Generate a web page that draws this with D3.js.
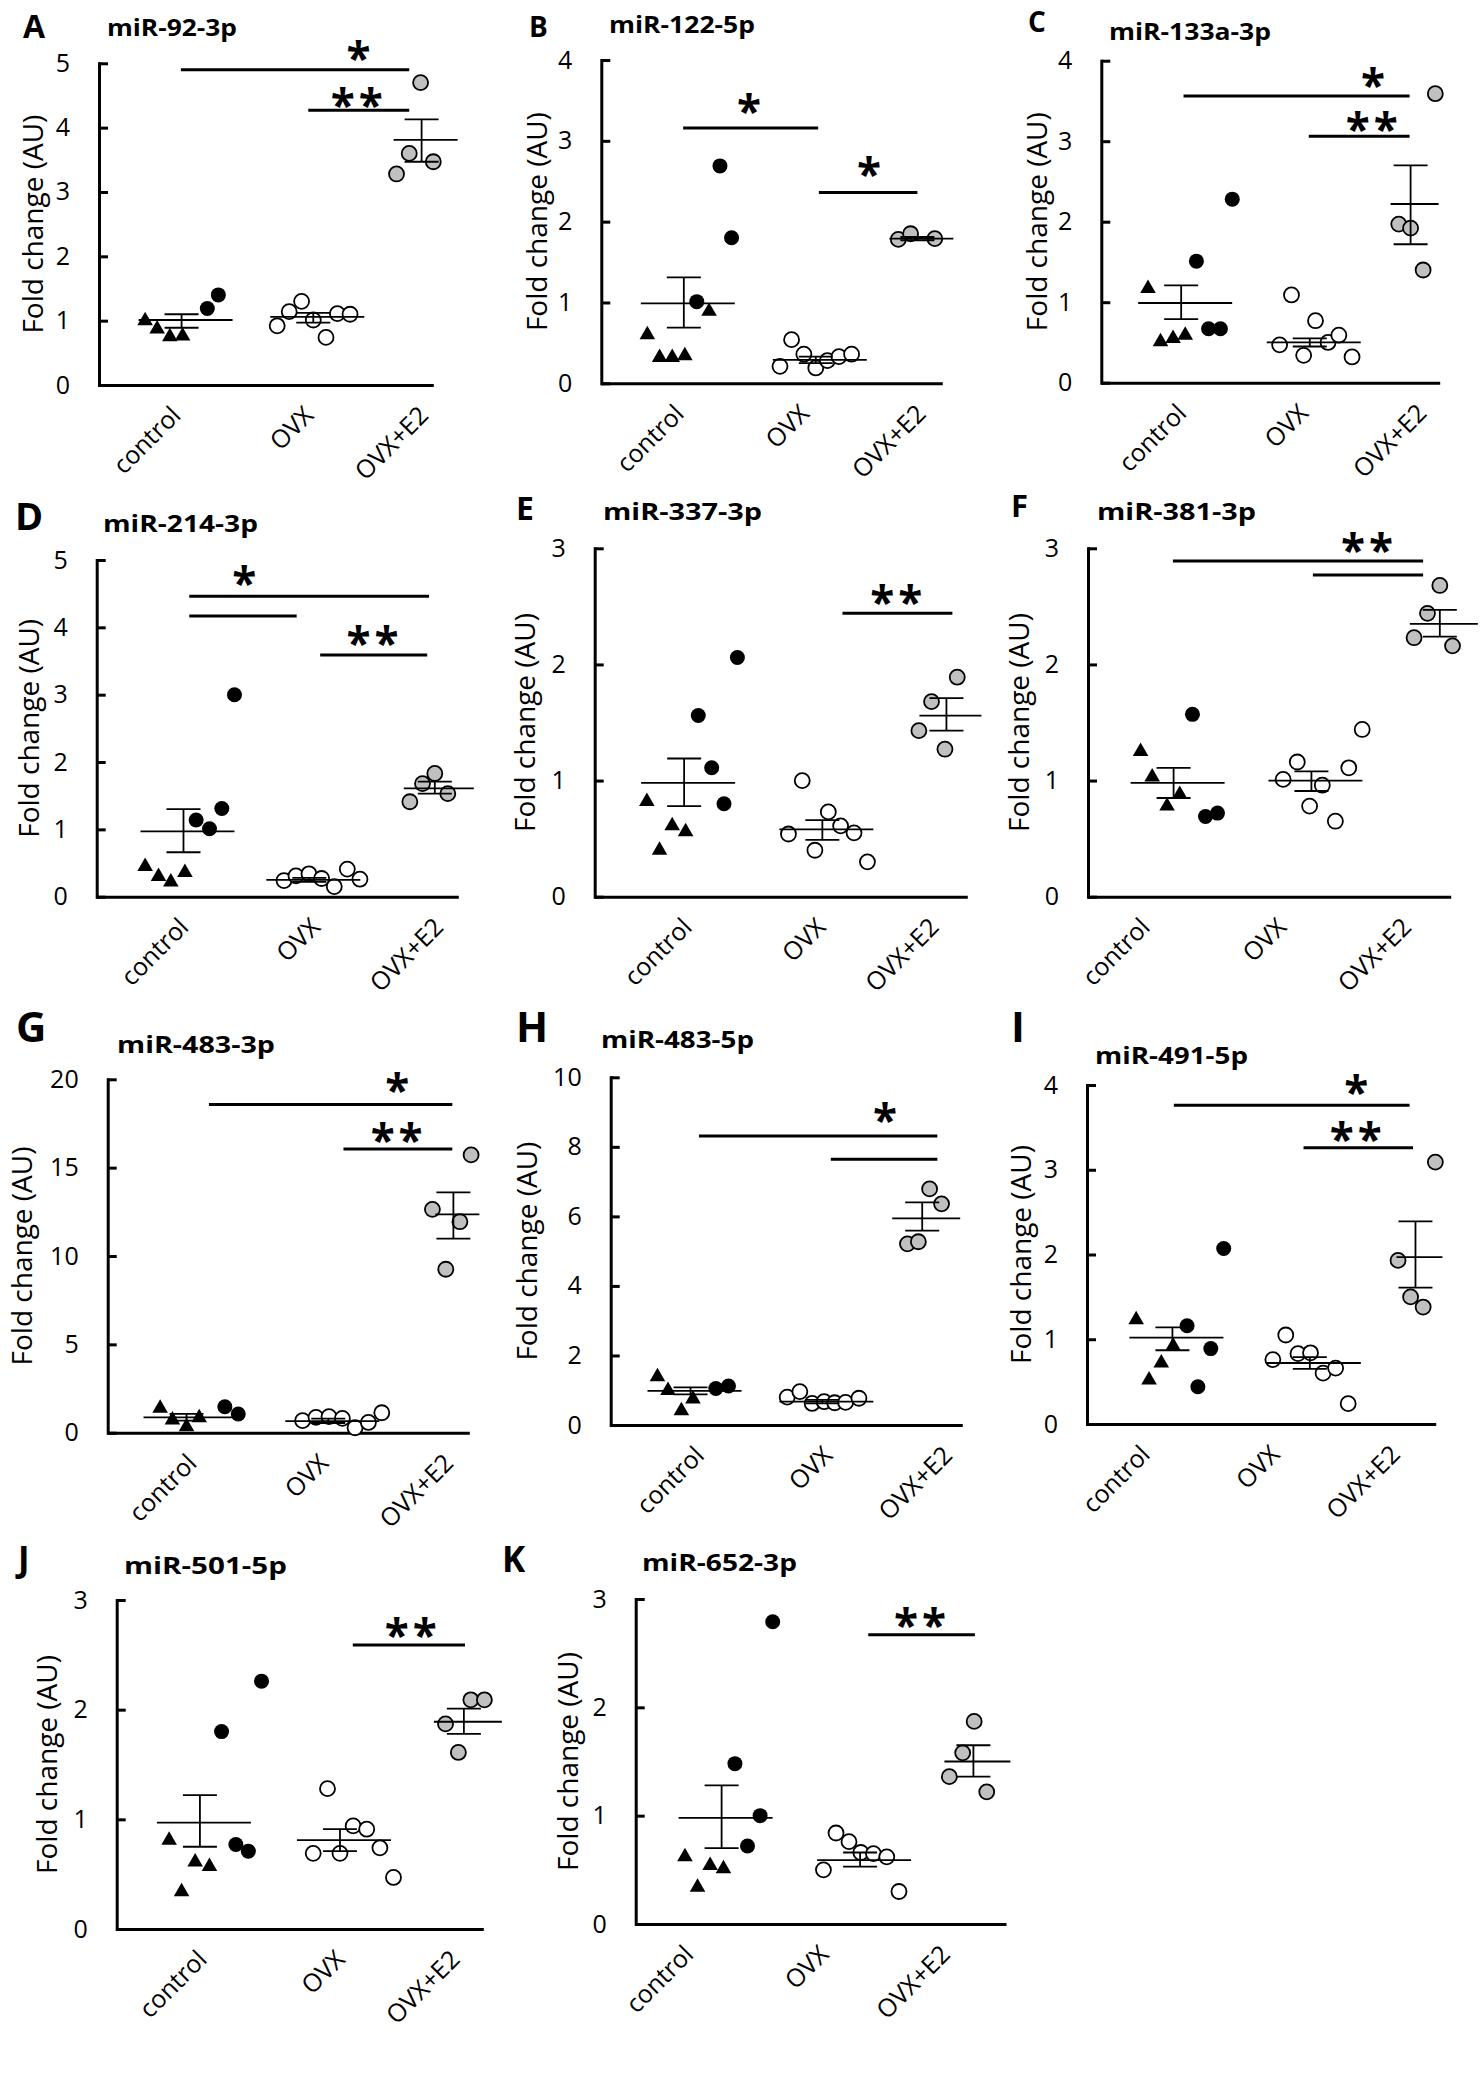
<!DOCTYPE html>
<html><head><meta charset="utf-8">
<script src="https://cdn.jsdelivr.net/npm/d3@7"></script>
<style>
body{margin:0;background:#fff}
svg{display:block}
text{font-family:"Open Sans",sans-serif;fill:#000}
</style>
</head><body>
<svg id="c" width="1482" height="2100"></svg>
<script>
// ---------- categories / labels ----------
const groups = ["control", "OVX", "OVX+E2"];
const panelIds = ["A","B","C","D","E","F","G","H","I","J","K"];
const titles = ["miR-92-3p","miR-122-5p","miR-133a-3p","miR-214-3p","miR-337-3p","miR-381-3p",
                "miR-483-3p","miR-483-5p","miR-491-5p","miR-501-5p","miR-652-3p"];
const yLabel = "Fold change (AU)";
const yMax  = [5,4,4,5,3,3,20,10,4,3,3];
const yStep = [1,1,1,1,1,1,5,2,1,1,1];

// ---------- data: [x-position (0-100 along axis), fold change] ----------
// control, triangles
const triA=[[13.8,1.00],[17.4,0.87],[21.2,0.75],[25.0,0.76]];
const triB=[[13.5,0.60],[17.1,0.32],[20.8,0.32],[24.5,0.34],[31.6,0.89]];
const triC=[[13.8,1.17],[17.5,0.51],[21.2,0.55],[24.8,0.59]];
const triD=[[13.4,0.45],[17.1,0.30],[20.5,0.22],[24.4,0.36]];
const triE=[[14.0,0.82],[17.4,0.40],[20.8,0.61],[24.4,0.56]];
const triF=[[14.5,1.25],[17.7,1.03],[21.8,0.78],[25.3,0.88]];
const triG=[[14.5,1.38],[17.9,0.72],[21.8,0.34],[25.3,0.85]];
const triH=[[13.3,1.39],[16.3,0.99],[20.1,0.41],[23.4,0.75]];
const triI=[[14.1,1.23],[17.8,0.52],[21.3,0.72],[24.7,0.92]];
const triJ=[[14.3,0.81],[17.7,0.34],[21.4,0.61],[25.3,0.57]];
const triK=[[13.3,0.62],[16.7,0.34],[20.1,0.54],[23.7,0.51]];
// control, filled circles
const dotA=[[32.4,1.19],[35.7,1.40]];
const dotB=[[28.0,1.01],[34.8,2.69],[38.2,1.80]];
const dotC=[[28.1,1.51],[31.7,0.67],[35.2,0.67],[38.7,2.28]];
const dotD=[[27.5,1.14],[31.2,1.01],[34.6,1.31],[38.1,3.00]];
const dotE=[[27.8,1.56],[31.4,1.11],[34.7,0.80],[38.3,2.06]];
const dotF=[[28.8,1.57],[32.4,0.69],[35.7,0.72]];
const dotG=[[32.4,1.47],[36.1,1.06]];
const dotH=[[29.9,1.05],[33.5,1.12]];
const dotI=[[28.7,1.16],[31.8,0.44],[35.5,0.89],[39.2,2.07]];
const dotJ=[[28.6,1.80],[32.5,0.77],[35.9,0.71],[39.5,2.26]];
const dotK=[[26.8,1.48],[30.2,0.72],[33.6,1.00],[37.0,2.79]];
// OVX, open circles
const ovxA=[[53.3,0.92],[56.9,1.14],[60.6,1.30],[64.1,1.01],[67.9,0.74],[71.3,1.11],[75.1,1.10]];
const ovxB=[[52.4,0.21],[55.8,0.54],[59.4,0.36],[62.9,0.19],[66.3,0.28],[69.7,0.33],[73.4,0.36]];
const ovxC=[[52.7,0.47],[56.2,1.09],[59.8,0.34],[63.3,0.77],[67.0,0.50],[70.2,0.59],[74.1,0.32]];
const ovxD=[[51.8,0.24],[55.1,0.31],[58.7,0.34],[62.2,0.27],[65.7,0.15],[69.3,0.41],[72.8,0.26]];
const ovxE=[[52.0,0.54],[55.7,1.00],[59.1,0.40],[62.7,0.73],[66.0,0.61],[69.6,0.55],[73.2,0.30]];
const ovxF=[[53.8,1.01],[57.7,1.16],[61.1,0.78],[64.6,0.96],[68.2,0.65],[71.9,1.11],[75.6,1.44]];
const ovxG=[[53.9,0.68],[57.6,0.87],[61.2,0.91],[64.9,0.81],[68.4,0.28],[72.1,0.58],[75.8,1.13]];
const ovxH=[[50.2,0.80],[53.8,0.96],[57.3,0.62],[60.7,0.67],[63.7,0.64],[66.8,0.65],[70.6,0.77]];
const ovxI=[[53.3,0.76],[57.0,1.05],[60.5,0.83],[64.1,0.84],[67.7,0.60],[71.3,0.66],[74.9,0.24]];
const ovxJ=[[53.6,0.69],[57.5,1.28],[60.9,0.69],[64.5,0.94],[68.2,0.91],[71.8,0.74],[75.5,0.47]];
const ovxK=[[50.7,0.50],[54.1,0.84],[57.6,0.76],[60.8,0.66],[64.2,0.65],[67.8,0.62],[71.1,0.30]];
// OVX+E2, grey circles
const e2A=[[89.0,3.28],[92.8,3.60],[96.2,4.70],[100.0,3.47]];
const e2B=[[87.1,1.78],[90.7,1.85],[97.8,1.79]];
const e2C=[[87.9,1.97],[91.4,1.92],[95.1,1.40],[98.7,3.59]];
const e2D=[[86.6,1.41],[90.1,1.68],[93.5,1.83],[97.1,1.53]];
const e2E=[[87.0,1.43],[90.4,1.68],[94.0,1.27],[97.3,1.89]];
const e2F=[[89.9,2.23],[93.6,2.44],[97.0,2.68],[100.5,2.16]];
const e2G=[[89.8,12.64],[93.5,9.25],[97.4,11.94],[100.5,15.72]];
const e2H=[[84.4,5.21],[87.5,5.27],[90.7,6.79],[94.1,6.36]];
const e2I=[[89.2,1.93],[92.8,1.50],[96.4,1.38],[99.9,3.09]];
const e2J=[[89.7,1.87],[93.2,1.61],[96.6,2.09],[100.3,2.09]];
const e2K=[[84.7,1.36],[88.3,1.58],[91.4,1.87],[94.8,1.22]];
// mean ± SEM per group: [x, mean, upper, lower]
const meanA=[[24.7,1.01,1.10,0.89],[64.1,1.06,1.12,0.97],[96.5,3.81,4.13,3.47]];
const meanB=[[24.2,0.99,1.31,0.69],[62.9,0.29,0.33,0.25],[92.7,1.79,1.81,1.77]];
const meanC=[[23.6,0.99,1.21,0.79],[61.6,0.50,0.55,0.45],[91.4,2.22,2.70,1.72]];
const meanD=[[24.0,0.97,1.30,0.66],[58.8,0.25,0.28,0.22],[93.5,1.61,1.71,1.53]];
const meanE=[[24.0,0.98,1.19,0.78],[61.1,0.58,0.66,0.49],[94.4,1.56,1.71,1.43]];
const meanF=[[23.6,0.98,1.11,0.85],[61.6,1.00,1.08,0.91],[97.0,2.35,2.47,2.24]];
const meanG=[[21.8,0.87,1.06,0.68],[61.0,0.66,0.80,0.55],[95.6,12.36,13.60,10.98]];
const meanH=[[22.7,0.98,1.08,0.88],[60.2,0.67,0.72,0.62],[88.6,5.94,6.40,5.59]];
const meanI=[[24.5,1.02,1.14,0.87],[63.9,0.72,0.79,0.65],[94.2,1.97,2.39,1.61]];
const meanJ=[[22.7,0.97,1.22,0.75],[60.9,0.81,0.91,0.71],[94.7,1.89,2.01,1.78]];
const meanK=[[23.2,0.98,1.28,0.70],[60.6,0.59,0.66,0.53],[91.2,1.50,1.65,1.36]];
// significance bars: [xStart, xEnd, yLine, labelX, labelY, label]
const sigA=[[24.5,92.8,4.90,77.6,5.21,"*"],[62.6,92.8,4.27,77.1,4.48,"**"]];
const sigB=[[24.0,63.6,3.16,43.3,3.48,"*"],[63.8,92.7,2.36,78.5,2.70,"*"]];
const sigC=[[24.3,91.1,3.56,80.3,3.81,"*"],[61.3,91.1,3.06,79.9,3.26,"**"]];
const sigD=[[25.6,91.9,4.46,0,0,""],[25.6,55.3,4.17,40.8,4.78,"*"],[61.8,91.4,3.59,76.3,3.89,"**"]];
const sigE=[[66.5,96.0,2.44,80.9,2.61,"**"]];
const sigF=[[23.4,92.4,2.89,0,0,""],[62.0,92.4,2.77,76.9,3.06,"**"]];
const sigG=[[28.0,95.3,18.58,80.1,19.87,"*"],[65.2,95.3,16.06,79.9,17.04,"**"]];
const sigH=[[25.1,92.9,8.31,0,0,""],[62.6,92.9,7.64,78.0,9.01,"*"]];
const sigI=[[24.9,92.5,3.76,77.2,4.02,"*"],[62.1,93.5,3.26,77.1,3.47,"**"]];
const sigJ=[[64.4,95.0,2.59,80.2,2.76,"**"]];
const sigK=[[62.8,91.6,2.67,76.8,2.84,"**"]];

const triangles=[triA,triB,triC,triD,triE,triF,triG,triH,triI,triJ,triK];
const dots=[dotA,dotB,dotC,dotD,dotE,dotF,dotG,dotH,dotI,dotJ,dotK];
const ovxs=[ovxA,ovxB,ovxC,ovxD,ovxE,ovxF,ovxG,ovxH,ovxI,ovxJ,ovxK];
const e2s=[e2A,e2B,e2C,e2D,e2E,e2F,e2G,e2H,e2I,e2J,e2K];
const means=[meanA,meanB,meanC,meanD,meanE,meanF,meanG,meanH,meanI,meanJ,meanK];
const sigs=[sigA,sigB,sigC,sigD,sigE,sigF,sigG,sigH,sigI,sigJ,sigK];

// ---------- layout (pixel geometry) ----------
const layout = [
 {x0:99,   x1:433.3, y0:385,    yT:63.3,  L:[23,38,32],   T:[107,36,130],  yl:67, cat:[24.9,64.6,99],   e2h:32},
 {x0:601.3,x1:942.3, y0:383.3,  yT:60,    L:[529,37,28],  T:[609,33,146],  yl:65, cat:[24.7,61.4,95.6], e2h:32},
 {x0:1101.3,x1:1439.7,y0:382.7, yT:60.7,  L:[1028,32,28], T:[1109,40,162], yl:65, cat:[25.6,61.6,96.6], e2h:24},
 {x0:96.7, x1:458.3, y0:896.7,  yT:560,   L:[15,530,38],  T:[103,532,155], yl:69, cat:[25.8,62.2,96.3], e2h:35},
 {x0:594.7,x1:967.3, y0:896.7,  yT:548.3, L:[516,520,32], T:[603,520,159], yl:71, cat:[26.5,62.4,92.8], e2h:31},
 {x0:1088, x1:1450.7,y0:896.7,  yT:548.3, L:[1011,517,31],T:[1097,520,159],yl:70, cat:[17.5,55.1,89.6], e2h:34},
 {x0:107.7,x1:469.3, y0:1432.7, yT:1079.3,L:[16,1042,42], T:[117,1053,158], yl:87, cat:[25,61.5,96],    e2h:22},
 {x0:610.7,x1:962.3, y0:1425,   yT:1077.3,L:[516,1042,42],T:[601,1048,153],yl:85, cat:[27,63.5,97.6],  e2h:34},
 {x0:1087, x1:1435.7,y0:1424,   yT:1085,  L:[1011,1042,42],T:[1095,1064,153],yl:67,cat:[18.5,55.7,90.2],e2h:23},
 {x0:116.7,x1:483.3, y0:1929,   yT:1600,  L:[18,1572,35], T:[124,1574,163], yl:71, cat:[25,62.7,94],    e2h:34},
 {x0:635.7,x1:1006,  y0:1924,   yT:1599,  L:[502,1572,35],T:[642,1571,155],yl:69, cat:[16,52.5,85.3],  e2h:33}
];

const svg = d3.select("#c");
const FONT = '"Open Sans", sans-serif';
const triSym = d3.symbol().type(d3.symbolTriangle).size(105);
const STAR = 44;

panelIds.forEach((id, i) => {
  const P = layout[i];
  const g = svg.append("g");
  const x = d3.scaleLinear().domain([0, 100]).range([P.x0, P.x1]);
  const y = d3.scaleLinear().domain([0, yMax[i]]).range([P.y0, P.yT]);

  // panel letter & title
  g.append("text").attr("x", P.L[0]).attr("y", P.L[1]).attr("font-size", P.L[2])
    .attr("font-weight", 700).text(id);
  g.append("text").attr("x", P.T[0]).attr("y", P.T[1]).attr("font-size", 23)
    .attr("font-weight", 700).attr("textLength", P.T[2]).attr("lengthAdjust", "spacingAndGlyphs")
    .text(titles[i]);

  // y axis
  const ya = d3.axisLeft(y).tickValues(d3.range(0, yMax[i] + 1e-9, yStep[i]))
    .tickFormat(d3.format("d"))
    .tickSizeInner(-9).tickSizeOuter(0).tickPadding(29);
  const gy = g.append("g").attr("transform", `translate(${P.x0},0)`).call(ya)
    .attr("font-size", 25).attr("font-family", FONT);
  gy.select(".domain").attr("stroke", "#000").attr("stroke-width", 3).attr("stroke-linecap", "square");
  gy.selectAll(".tick line").attr("stroke", "#000").attr("stroke-width", 3);
  gy.selectAll(".tick text").attr("fill", "#000");

  // x axis
  const xa = d3.axisBottom(x).tickValues([]).tickSizeOuter(0);
  const gx = g.append("g").attr("transform", `translate(0,${P.y0})`).call(xa);
  gx.select(".domain").attr("stroke", "#000").attr("stroke-width", 3);

  // category labels
  g.selectAll("text.cat").data(groups).join("text").attr("class", "cat")
    .attr("transform", (d, j) => `translate(${x(P.cat[j])},${P.y0 + 32}) rotate(-45)`)
    .attr("text-anchor", "end").attr("font-size", 25).text(d => d);

  // y label
  g.append("text")
    .attr("transform", `translate(${P.x0 - P.yl},${(P.y0 + P.yT) / 2}) rotate(-90)`)
    .attr("text-anchor", "middle").attr("dominant-baseline", "central")
    .attr("font-size", 28).text(yLabel);

  // points
  g.selectAll("path.tri").data(triangles[i]).join("path").attr("class", "tri")
    .attr("d", triSym).attr("transform", d => `translate(${x(d[0])},${y(d[1])})`)
    .attr("fill", "#000");
  g.selectAll("circle.dot").data(dots[i]).join("circle").attr("class", "dot")
    .attr("cx", d => x(d[0])).attr("cy", d => y(d[1])).attr("r", 7.5).attr("fill", "#000");
  g.selectAll("circle.ovx").data(ovxs[i]).join("circle").attr("class", "ovx")
    .attr("cx", d => x(d[0])).attr("cy", d => y(d[1])).attr("r", 7.5)
    .attr("fill", "#fff").attr("stroke", "#000").attr("stroke-width", 1.8);
  g.selectAll("circle.e2").data(e2s[i]).join("circle").attr("class", "e2")
    .attr("cx", d => x(d[0])).attr("cy", d => y(d[1])).attr("r", 7.5)
    .attr("fill", "#c0c0c0").attr("stroke", "#000").attr("stroke-width", 1.8);

  // mean ± SEM
  const segs = [];
  means[i].forEach((m, j) => {
    const cx = x(m[0]);
    const hw = j < 2 ? 47 : P.e2h;
    segs.push([cx - hw + 4, y(m[1]), cx + hw + 4, y(m[1])]);
    segs.push([cx, y(m[2]), cx, y(m[3])]);
    segs.push([cx - 17, y(m[2]), cx + 17, y(m[2])]);
    segs.push([cx - 17, y(m[3]), cx + 17, y(m[3])]);
  });
  g.selectAll("line.ms").data(segs).join("line").attr("class", "ms")
    .attr("x1", d => d[0]).attr("y1", d => d[1]).attr("x2", d => d[2]).attr("y2", d => d[3])
    .attr("stroke", "#000").attr("stroke-width", 1.8);

  // significance bars
  g.selectAll("line.sig").data(sigs[i]).join("line").attr("class", "sig")
    .attr("x1", d => x(d[0])).attr("x2", d => x(d[1]))
    .attr("y1", d => y(d[2])).attr("y2", d => y(d[2]))
    .attr("stroke", "#000").attr("stroke-width", 3);
  g.selectAll("text.star").data(sigs[i].filter(d => d[5])).join("text").attr("class", "star")
    .attr("x", d => x(d[3]) + 2).attr("y", d => y(d[4]) + STAR * 0.56)
    .attr("text-anchor", "middle").attr("font-size", STAR).attr("font-weight", 700)
    .attr("letter-spacing", 4).text(d => d[5]);
});
</script>
</body></html>
